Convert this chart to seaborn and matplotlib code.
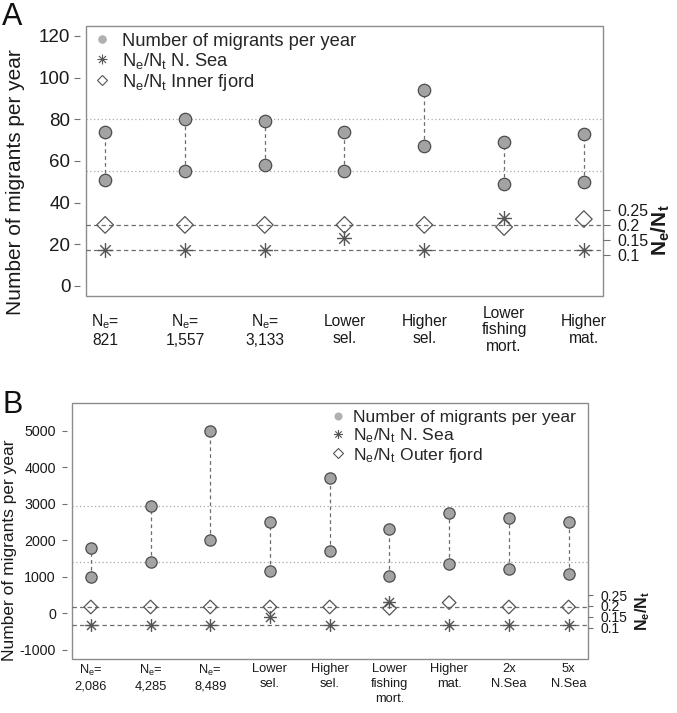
import numpy as np
import pandas as pd
import matplotlib
matplotlib.use("Agg")
import matplotlib.pyplot as plt
import seaborn as sns
from matplotlib.path import Path
from matplotlib.lines import Line2D
from matplotlib.patches import Rectangle
from matplotlib import font_manager as fm

# ---------------- data ----------------
a_categories = ["N$_e$=\n821", "N$_e$=\n1,557", "N$_e$=\n3,133", "Lower\nsel.",
                "Higher\nsel.", "Lower\nfishing\nmort.", "Higher\nmat."]
a_migrants_high = [74, 80, 79, 74, 94, 69, 73]
a_migrants_low = [51, 55, 58, 55, 67, 49, 50]
a_ratio_nsea = [0.118, 0.118, 0.118, 0.156, 0.118, 0.224, 0.118]
a_ratio_fjord = [0.200, 0.200, 0.200, 0.200, 0.200, 0.193, 0.219]
a_ref_migrants = [80, 55]
a_ref_ratio = [0.118, 0.200]
a_yticks = [0, 20, 40, 60, 80, 100, 120]
a_fjord_name = "Inner fjord"

b_categories = ["N$_e$=\n2,086", "N$_e$=\n4,285", "N$_e$=\n8,489", "Lower\nsel.",
                "Higher\nsel.", "Lower\nfishing\nmort.", "Higher\nmat.",
                "2x\nN.Sea", "5x\nN.Sea"]
b_migrants_high = [1800, 2930, 5000, 2500, 3700, 2300, 2750, 2600, 2510]
b_migrants_low = [1000, 1400, 2000, 1150, 1700, 1020, 1350, 1210, 1070]
b_ratio_nsea = [0.114, 0.114, 0.114, 0.148, 0.114, 0.219, 0.114, 0.114, 0.114]
b_ratio_fjord = [0.195, 0.195, 0.195, 0.195, 0.195, 0.189, 0.215, 0.195, 0.195]
b_ref_migrants = [2930, 1400]
b_ref_ratio = [0.114, 0.195]
b_yticks = [-1000, 0, 1000, 2000, 3000, 4000, 5000]
b_fjord_name = "Outer fjord"

ratio_ticks = [0.1, 0.15, 0.2, 0.25]
ratio_ticklabels = ["0.1", "0.15", "0.2", "0.25"]
ylabel_text = "Number of migrants per year"
ratio_label = "N$_e$/N$_t$"

# ---------------- style ----------------
sns.set_style("white")
plt.rcParams["font.family"] = ["Liberation Sans", "DejaVu Sans"]
plt.rcParams["mathtext.fontset"] = "custom"
plt.rcParams["mathtext.rm"] = "Liberation Sans"
plt.rcParams["mathtext.it"] = "Liberation Sans"
plt.rcParams["mathtext.bf"] = "Liberation Sans:bold"
plt.rcParams["mathtext.default"] = "regular"

# a regular-weight narrow face for the category labels, if present
narrow_file = None
for f in fm.fontManager.ttflist:
    if (f.name == "Liberation Sans Narrow" and f.style == "normal"
            and str(f.weight) in ("400", "normal", "regular")
            and "bold" not in f.fname.lower()):
        narrow_file = f.fname
        break
if narrow_file is not None:
    cat_kw = dict(fontproperties=fm.FontProperties(fname=narrow_file))
    cat_scale = 1.0
else:
    cat_kw = dict(fontfamily="Liberation Sans", fontweight="normal")
    cat_scale = 0.9


ast_path = Path(
    [(-1, 0), (1, 0), (0, -1), (0, 1),
     (-0.707, -0.707), (0.707, 0.707), (-0.707, 0.707), (0.707, -0.707)],
    [Path.MOVETO, Path.LINETO] * 4,
)

CIRC_FC = "#a3a3a3"
CIRC_EC = "#4d4d4d"
MARK_EC = "#555555"
LINE_C = "#6e6e6e"
BOX_C = "#8c8c8c"


def draw_panel(ax, cats, high, low, nsea, fjord, ref_mig, ref_ratio, yticks,
               fjord_name, ylim, rlim, st):
    n = len(cats)
    x = np.arange(1, n + 1)
    ext = 0.04 * (n - 1)
    ax.set_xlim(1 - ext, n + ext)
    ax.set_ylim(*ylim)

    for v in ref_mig:
        ax.axhline(v, color="#a8a8a8", ls=(0, (1, 2)), lw=0.9, zorder=1)
    ax.vlines(x, low, high, colors=LINE_C, linestyles=(0, (3, 2.5)), lw=0.9, zorder=2)

    df = pd.DataFrame({"x": np.concatenate([x, x]),
                       "mig": list(high) + list(low)})
    sns.scatterplot(data=df, x="x", y="mig", ax=ax, s=st["circ_s"], color=CIRC_FC,
                    edgecolor=CIRC_EC, linewidth=0.9, zorder=3, legend=False)

    ax2 = ax.twinx()
    ax2.set_ylim(*rlim)
    for r in ref_ratio:
        ax2.axhline(r, color=LINE_C, ls=(0, (3.5, 2.5)), lw=0.9, zorder=1)
    sns.scatterplot(x=x, y=fjord, ax=ax2, marker="D", s=st["dia_s"], color="none",
                    edgecolor=MARK_EC, linewidth=0.9, zorder=3, legend=False)
    sns.scatterplot(x=x, y=nsea, ax=ax2, marker=ast_path, s=st["ast_s"], color=MARK_EC,
                    edgecolor=MARK_EC, linewidth=1.0, zorder=4, legend=False)
    ax2.set_xlim(1 - ext, n + ext)

    # box
    for a in (ax, ax2):
        for sp in a.spines.values():
            sp.set_visible(False)
    ax.add_patch(Rectangle((0, 0), 1, 1, transform=ax.transAxes, fill=False,
                           ec=BOX_C, lw=1.0, clip_on=False, zorder=5))

    # left axis
    ax.spines["left"].set_visible(True)
    ax.spines["left"].set_color("none")
    ax.spines["left"].set_position(("outward", st["left_off"]))
    ax.set_yticks(yticks)
    ax.set_yticklabels([str(v) for v in yticks])
    ax.tick_params(axis="y", left=True, right=False, direction="out",
                   length=st["ytick_len"], width=0.8, color="#707070",
                   pad=st["ytick_pad"], labelsize=st["ytick_fs"], labelcolor="#1a1a1a")
    ax.set_ylabel(ylabel_text, fontsize=st["ylab_fs"], color="#1a1a1a")
    ax.yaxis.set_label_coords(*st["ylab_xy"])
    ax.yaxis.label.set_va("center")

    # x axis categories
    ax.set_xticks(x)
    ax.set_xticklabels(cats, linespacing=st["cat_ls"], color="#1a1a1a", **cat_kw)
    for lbl in ax.get_xticklabels():
        lbl.set_fontsize(st["cat_fs"] * cat_scale)
        lbl.set_va(st["cat_va"])
    ax.tick_params(axis="x", length=0, pad=st["cat_pad"])
    ax.set_xlabel("")

    # right axis
    ax2.set_yticks(ratio_ticks)
    ax2.set_yticklabels(ratio_ticklabels)
    ax2.tick_params(axis="y", right=True, left=False, direction="out",
                    length=st["rtick_len"], width=0.8, color="#707070",
                    pad=st["rtick_pad"], labelsize=st["rtick_fs"], labelcolor="#1a1a1a")
    ax2.set_ylabel(ratio_label, fontsize=st["rlab_fs"], fontweight="bold",
                   color="#1a1a1a", rotation=90)
    ax2.yaxis.set_label_coords(*st["rlab_xy"])
    ax2.yaxis.label.set_va("center")
    ax2.yaxis.label.set_ha("center")
    ax2.yaxis.label.set_rotation_mode("anchor")

    handles = [
        Line2D([], [], ls="", marker="o", markersize=st["leg_circ"], color="#b0b0b0",
               markeredgewidth=0),
        Line2D([], [], ls="", marker=ast_path, markersize=st["leg_ast"], color=MARK_EC,
               markeredgewidth=0.8),
        Line2D([], [], ls="", marker="D", markersize=st["leg_dia"], markerfacecolor="none",
               markeredgecolor=MARK_EC, markeredgewidth=0.8),
    ]
    labels = [ylabel_text, "N$_e$/N$_t$ N. Sea", "N$_e$/N$_t$ " + fjord_name]
    ax2.legend(handles, labels, loc="upper left", bbox_to_anchor=st["leg_anchor"],
               frameon=False, fontsize=st["leg_fs"], handlelength=0.8,
               handletextpad=st["leg_pad"], labelspacing=st["leg_ls"],
               borderpad=0, borderaxespad=0)
    return ax2


fig = plt.figure(figsize=(6.77, 7.13), dpi=100)
axA = fig.add_axes([0.127, 0.5849, 0.7637, 0.3787])
axB = fig.add_axes([0.1059, 0.0757, 0.7622, 0.3595])

stA = dict(circ_s=80, dia_s=72, ast_s=115, left_off=4, ytick_len=4.3, ytick_pad=3,
           ytick_fs=13.5, ylab_fs=15, ylab_xy=(-0.137, 0.422), cat_fs=12.5, cat_ls=1.15,
           cat_pad=24.5, cat_va="center", rtick_len=4.8, rtick_pad=5.5, rtick_fs=11.5,
           rlab_fs=15, rlab_xy=(1.112, 0.244), leg_circ=6.2, leg_ast=7.2, leg_dia=5.4,
           leg_anchor=(0.017, 0.975), leg_fs=13.2, leg_pad=0.69, leg_ls=0.05)
stB = dict(circ_s=66, dia_s=48, ast_s=85, left_off=3.7, ytick_len=3.6, ytick_pad=4,
           ytick_fs=10.3, ylab_fs=12.5, ylab_xy=(-0.1205, 0.425), cat_fs=10.3, cat_ls=1.3,
           cat_pad=3, cat_va="top", rtick_len=3.6, rtick_pad=5.5, rtick_fs=10,
           rlab_fs=11.5, rlab_xy=(1.107, 0.187), leg_circ=5.8, leg_ast=6.5, leg_dia=5.0,
           leg_anchor=(0.5025, 0.972), leg_fs=12.6, leg_pad=0.46, leg_ls=0.05)

draw_panel(axA, a_categories, a_migrants_high, a_migrants_low, a_ratio_nsea,
           a_ratio_fjord, a_ref_migrants, a_ref_ratio, a_yticks, a_fjord_name,
           (-4.8, 124.8), (-0.0329, 0.852), stA)
draw_panel(axB, b_categories, b_migrants_high, b_migrants_low, b_ratio_nsea,
           b_ratio_fjord, b_ref_migrants, b_ref_ratio, b_yticks, b_fjord_name,
           (-1252, 5770), (-0.0436, 1.132), stB)

fig.text(0.003, 1 - 25 / 713, "A", fontsize=22, va="baseline", ha="left", color="#111111")
fig.text(0.004, 1 - 413 / 713, "B", fontsize=22, va="baseline", ha="left", color="#111111")

fig.savefig("out.png", dpi=100)
